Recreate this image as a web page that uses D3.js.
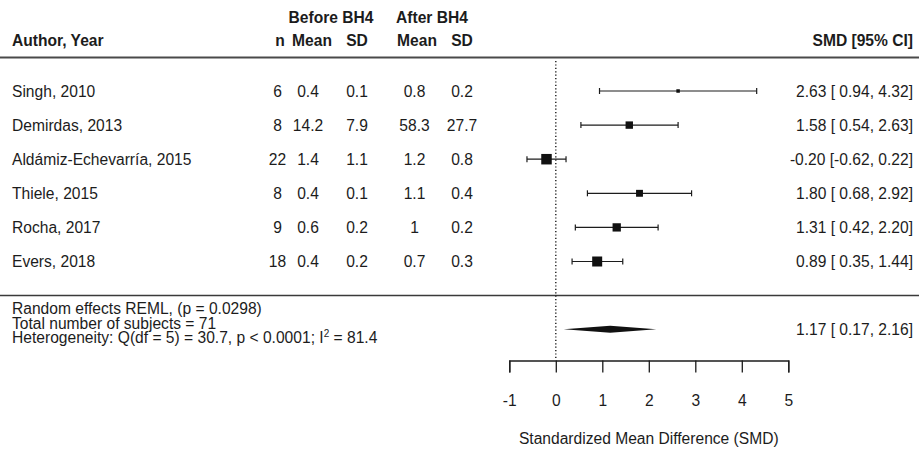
<!DOCTYPE html>
<html>
<head>
<meta charset="utf-8">
<script src="https://cdn.jsdelivr.net/npm/d3@7"></script>
<style>
  html, body { margin: 0; padding: 0; background: #fff; }
  svg text { font-family: "Liberation Sans", Arial, sans-serif; font-size: 15.6px; fill: #1c1c1c; }
</style>
</head>
<body>
<svg id="chart" width="919" height="449"></svg>
<script>
// Study rows
const authors = ["Singh, 2010", "Demirdas, 2013", "Aldámiz-Echevarría, 2015",
                 "Thiele, 2015", "Rocha, 2017", "Evers, 2018"];
const nSubjects = [6, 8, 22, 8, 9, 18];
const beforeMean = ["0.4", "14.2", "1.4", "0.4", "0.6", "0.4"];
const beforeSD   = ["0.1", "7.9", "1.1", "0.1", "0.2", "0.2"];
const afterMean  = ["0.8", "58.3", "1.2", "1.1", "1", "0.7"];
const afterSD    = ["0.2", "27.7", "0.8", "0.4", "0.2", "0.3"];
const smd    = [2.63, 1.58, -0.20, 1.80, 1.31, 0.89];
const ciLow  = [0.94, 0.54, -0.62, 0.68, 0.42, 0.35];
const ciHigh = [4.32, 2.63, 0.22, 2.92, 2.20, 1.44];
// Relative study weights (%), random-effects model
const weights = [12.4, 16.3, 19.4, 15.8, 17.2, 18.9];

// Pooled estimate
const pooled = { est: 1.17, lo: 0.17, hi: 2.16 };
const summaryLines = ["Random effects REML, (p = 0.0298)", "Total number of subjects = 71"];

// Axis
const axisTicks = [-1, 0, 1, 2, 3, 4, 5];
const axisTitle = "Standardized Mean Difference (SMD)";

// Plain hyphen as the minus sign
const locale = d3.formatLocale({ decimal: ".", thousands: ",", grouping: [3], currency: ["", ""], minus: "-" });
const fmt = locale.format(".2f");
const pad = v => (v < 0 ? fmt(v) : " " + fmt(v));
const ciText = (e, l, h) => fmt(e) + " [" + pad(l) + "," + pad(h) + "]";

const svg = d3.select("#chart");
const W = 919;
const ink = "#1c1c1c";

const x = d3.scaleLinear().domain([-1, 5]).range([509.3, 788.3]);
const y = d3.scalePoint().domain(authors).range([91, 261.5]);
const boxSize = d3.scaleLinear().domain(d3.extent(weights)).range([3.5, 10.5]);
const base = 5.6; // baseline offset from a row's visual centre

// Header
const head = svg.append("g");
head.append("text").attr("x", 331).attr("y", 22.5).attr("text-anchor", "middle").style("font-weight", "bold").text("Before BH4");
head.append("text").attr("x", 432).attr("y", 22.5).attr("text-anchor", "middle").style("font-weight", "bold").text("After BH4");
const hRow = [
  { t: "Author, Year", x: 12, a: "start" },
  { t: "n", x: 280, a: "middle" },
  { t: "Mean", x: 312, a: "middle" },
  { t: "SD", x: 357, a: "middle" },
  { t: "Mean", x: 417, a: "middle" },
  { t: "SD", x: 462, a: "middle" },
  { t: "SMD [95% CI]", x: 913, a: "end" }
];
head.selectAll("text.h").data(hRow).join("text").attr("class", "h")
  .attr("x", d => d.x).attr("y", 45.5).attr("text-anchor", d => d.a)
  .style("font-weight", "bold").text(d => d.t);

// Rules
svg.append("line").attr("x1", 0).attr("x2", W).attr("y1", 57.5).attr("y2", 57.5)
  .attr("stroke", "#4a4a4a").attr("stroke-width", 2);
svg.append("line").attr("x1", 0).attr("x2", W).attr("y1", 295.5).attr("y2", 295.5)
  .attr("stroke", "#3a3a3a").attr("stroke-width", 1.3);

// Reference line at zero
svg.append("line").attr("x1", x(0)).attr("x2", x(0)).attr("y1", 61).attr("y2", 360)
  .attr("stroke", ink).attr("stroke-width", 1.4).attr("stroke-dasharray", "1.2,2.2");

// Table columns
const rows = authors.map((a, i) => ({
  a, n: nSubjects[i], bm: beforeMean[i], bs: beforeSD[i], am: afterMean[i], as: afterSD[i],
  est: smd[i], lo: ciLow[i], hi: ciHigh[i], w: weights[i]
}));
const cols = [
  { k: "a", x: 12, a: "start" },
  { k: "n", x: 277.5, a: "middle" },
  { k: "bm", x: 308, a: "middle" },
  { k: "bs", x: 357, a: "middle" },
  { k: "am", x: 414.5, a: "middle" },
  { k: "as", x: 462, a: "middle" }
];
const rowG = svg.selectAll("g.row").data(rows).join("g").attr("class", "row")
  .attr("transform", d => `translate(0,${y(d.a)})`);
cols.forEach(c => {
  rowG.append("text").attr("x", c.x).attr("y", base).attr("text-anchor", c.a).text(d => d[c.k]);
});
rowG.append("text").attr("x", 913).attr("y", base).attr("text-anchor", "end")
  .text(d => ciText(d.est, d.lo, d.hi));

// Confidence intervals and boxes
rowG.append("line").attr("x1", d => x(d.lo)).attr("x2", d => x(d.hi))
  .attr("stroke", ink).attr("stroke-width", 1.2);
rowG.append("line").attr("x1", d => x(d.lo)).attr("x2", d => x(d.lo)).attr("y1", -3).attr("y2", 3)
  .attr("stroke", ink).attr("stroke-width", 1.2);
rowG.append("line").attr("x1", d => x(d.hi)).attr("x2", d => x(d.hi)).attr("y1", -3).attr("y2", 3)
  .attr("stroke", ink).attr("stroke-width", 1.2);
rowG.append("rect")
  .attr("x", d => x(d.est) - boxSize(d.w) / 2).attr("y", d => -boxSize(d.w) / 2)
  .attr("width", d => boxSize(d.w)).attr("height", d => boxSize(d.w)).attr("fill", "#111");

// Summary block: one multi-line text element
const sy = 329.3;
const note = svg.append("text").attr("x", 12).attr("y", 314);
summaryLines.forEach((s, i) => {
  note.append("tspan").attr("x", 12).attr("dy", i === 0 ? 0 : 14.5).text(s);
});
note.append("tspan").attr("x", 12).attr("dy", 14.5).text("Heterogeneity: Q(df = 5) = 30.7, p < 0.0001; I");
note.append("tspan").attr("dy", -6).style("font-size", "10px").text("2");
note.append("tspan").attr("dy", 6).text(" = 81.4");

svg.append("path")
  .attr("d", d3.line()([[x(pooled.lo), sy], [x(pooled.est), sy - 3.5], [x(pooled.hi), sy], [x(pooled.est), sy + 3.5]]) + "Z")
  .attr("fill", "#111");
svg.append("text").attr("x", 913).attr("y", sy + base).attr("text-anchor", "end")
  .text(ciText(pooled.est, pooled.lo, pooled.hi));

// X axis
const axis = d3.axisBottom(x).tickValues(axisTicks).tickFormat(locale.format("d"))
  .tickSize(12).tickSizeOuter(12).tickPadding(22);
const ax = svg.append("g").attr("transform", "translate(0,360.5)").call(axis);
ax.select(".domain").attr("stroke", ink).attr("stroke-width", 1.3);
ax.selectAll(".tick line").attr("stroke", ink).attr("stroke-width", 1.3);
ax.selectAll(".tick text").attr("fill", ink).style("font-size", "15.6px")
  .style("font-family", '"Liberation Sans", Arial, sans-serif');

svg.append("text").attr("x", (x(-1) + x(5)) / 2).attr("y", 444).attr("text-anchor", "middle").text(axisTitle);
</script>
</body>
</html>
